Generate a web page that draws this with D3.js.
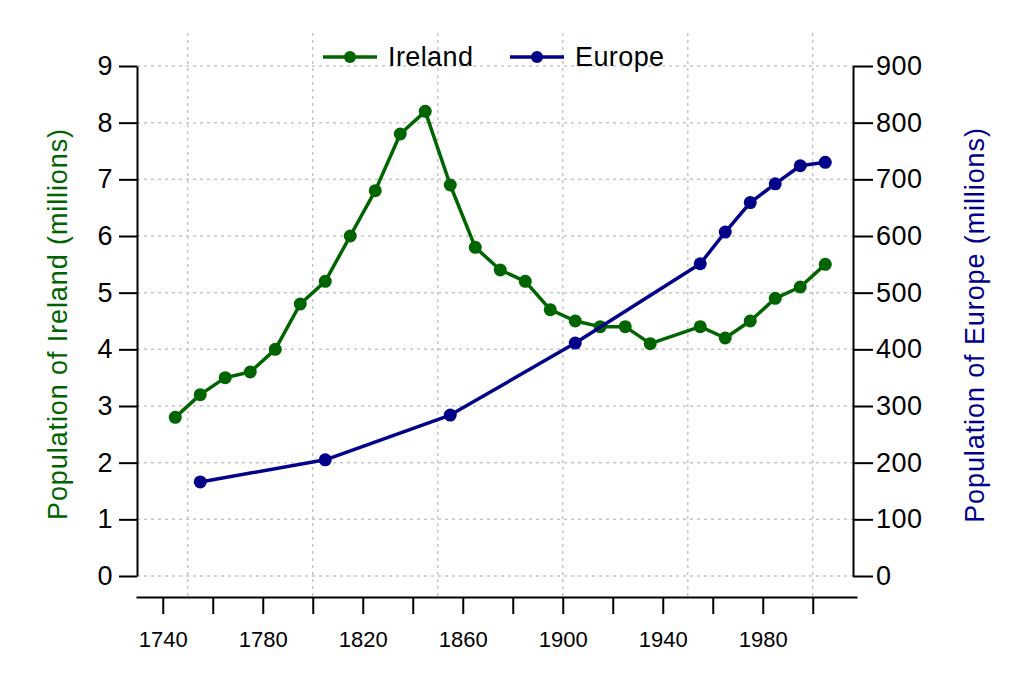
<!DOCTYPE html>
<html>
<head>
<meta charset="utf-8">
<script src="https://cdn.jsdelivr.net/npm/d3@7"></script>
<style>
  body { margin: 0; background: #fff; }
  svg { display: block; font-family: "Liberation Sans", Arial, sans-serif; }
</style>
</head>
<body>
<div id="chart"></div>
<script>
var irelandYears = [1745, 1755, 1765, 1775, 1785, 1795, 1805, 1815, 1825, 1835,
                    1845, 1855, 1865, 1875, 1885, 1895, 1905, 1915, 1925, 1935,
                    1955, 1965, 1975, 1985, 1995, 2005];
var irelandPop = [2.8, 3.2, 3.5, 3.6, 4.0, 4.8, 5.2, 6.0, 6.8, 7.8,
                  8.2, 6.9, 5.8, 5.4, 5.2, 4.7, 4.5, 4.4, 4.4, 4.1,
                  4.4, 4.2, 4.5, 4.9, 5.1, 5.5];
var europeYears = [1755, 1805, 1855, 1905, 1955, 1965, 1975, 1985, 1995, 2005];
var europePop = [166, 205, 284, 411, 551, 607, 659, 692, 724, 730];

var xTicks = [1740, 1760, 1780, 1800, 1820, 1840, 1860, 1880, 1900, 1920, 1940, 1960, 1980, 2000];
var xGrid = [1750, 1800, 1850, 1900, 1950, 2000];
var leftTicks = [0, 1, 2, 3, 4, 5, 6, 7, 8, 9];
var rightTicks = [0, 100, 200, 300, 400, 500, 600, 700, 800, 900];

var width = 1024;
var height = 682;
var green = "#006400";
var blue = "#00008b";

var svg = d3.select("#chart")
            .append("svg")
            .attr("width", width)
            .attr("height", height);

var x = d3.scaleLinear().domain([1729.3, 2017.7]).range([136, 857]);
var yL = d3.scaleLinear().domain([0, 9]).range([576, 66]);
var yR = d3.scaleLinear().domain([0, 900]).range([576, 66]);

// grid
svg.append("g").selectAll("line")
   .data(xGrid).enter().append("line")
   .attr("x1", function(d){ return x(d); })
   .attr("x2", function(d){ return x(d); })
   .attr("y1", 33).attr("y2", 597)
   .attr("stroke", "#c6c6c6").attr("stroke-width", 1.5)
   .attr("stroke-dasharray", "3,4");

svg.append("g").selectAll("line")
   .data(leftTicks).enter().append("line")
   .attr("x1", 137).attr("x2", 853)
   .attr("y1", function(d){ return yL(d); })
   .attr("y2", function(d){ return yL(d); })
   .attr("stroke", "#c6c6c6").attr("stroke-width", 1.5)
   .attr("stroke-dasharray", "3,4");

// axes
var xAxis = d3.axisBottom(x)
              .tickValues(xTicks)
              .tickSize(17)
              .tickSizeOuter(0)
              .tickPadding(17)
              .tickFormat(function(d){ return (d - 1740) % 40 === 0 && d < 2000 ? d : ""; });

var gx = svg.append("g").attr("transform", "translate(0,597)").call(xAxis);
gx.selectAll("text").attr("font-size", 22);

var gl = svg.append("g").attr("transform", "translate(137,0)")
            .call(d3.axisLeft(yL).tickValues(leftTicks).tickSize(18).tickSizeOuter(0).tickPadding(6));
gl.selectAll("text").attr("font-size", 27).attr("letter-spacing", 0.5);

var gr = svg.append("g").attr("transform", "translate(853,0)")
            .call(d3.axisRight(yR).tickValues(rightTicks).tickSize(20).tickSizeOuter(0).tickPadding(3));
gr.selectAll("text").attr("font-size", 27).attr("letter-spacing", 0.5);

svg.selectAll(".domain, .tick line").attr("stroke", "#000").attr("stroke-width", 2);
svg.selectAll(".tick text").attr("fill", "#000").attr("font-family", "Liberation Sans, Arial, sans-serif");

// axis titles
svg.append("text")
   .attr("transform", "translate(67,324) rotate(-90)")
   .attr("text-anchor", "middle")
   .attr("font-size", 27)
   .attr("letter-spacing", 0.9)
   .attr("fill", green)
   .text("Population of Ireland (millions)");

svg.append("text")
   .attr("transform", "translate(984,325) rotate(-90)")
   .attr("text-anchor", "middle")
   .attr("font-size", 27)
   .attr("letter-spacing", 0.9)
   .attr("fill", blue)
   .text("Population of Europe (millions)");

// series
var series = [
  { name: "Ireland", years: irelandYears, values: irelandPop, y: yL, color: green },
  { name: "Europe", years: europeYears, values: europePop, y: yR, color: blue }
];

series.forEach(function(s){
  var pts = s.years.map(function(yr, i){ return [yr, s.values[i]]; });
  var line = d3.line()
               .x(function(d){ return x(d[0]); })
               .y(function(d){ return s.y(d[1]); });
  svg.append("path")
     .datum(pts)
     .attr("d", line)
     .attr("fill", "none")
     .attr("stroke", s.color)
     .attr("stroke-width", 3.5)
     .attr("stroke-linejoin", "round");
  svg.append("g").selectAll("circle")
     .data(pts).enter().append("circle")
     .attr("cx", function(d){ return x(d[0]); })
     .attr("cy", function(d){ return s.y(d[1]); })
     .attr("r", 6.5)
     .attr("fill", s.color);
});

// legend
var legendX = [323, 510];
var leg = svg.append("g").selectAll("g")
             .data(series).enter().append("g")
             .attr("transform", function(d, i){ return "translate(" + legendX[i] + ",57)"; });
leg.append("line")
   .attr("x1", 0).attr("x2", 54).attr("y1", 0).attr("y2", 0)
   .attr("stroke", function(d){ return d.color; })
   .attr("stroke-width", 3.5);
leg.append("circle")
   .attr("cx", 27).attr("cy", 0).attr("r", 6)
   .attr("fill", function(d){ return d.color; });
leg.append("text")
   .attr("x", 65).attr("y", 9)
   .attr("font-size", 27)
   .attr("letter-spacing", 0.4)
   .attr("fill", "#000")
   .text(function(d){ return d.name; });
</script>
</body>
</html>
